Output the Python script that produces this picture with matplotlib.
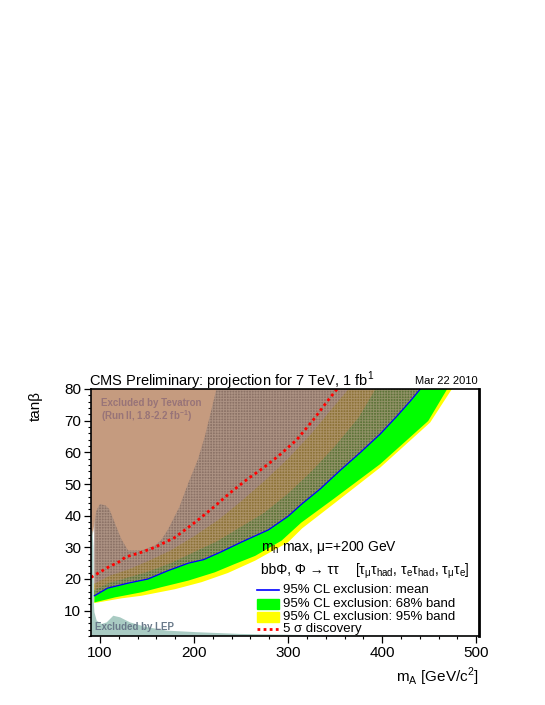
import matplotlib
matplotlib.use("Agg")
import matplotlib.pyplot as plt
from matplotlib.patches import Rectangle
from matplotlib.ticker import MultipleLocator
import numpy as np

plt.rcParams["font.family"] = ["Liberation Sans", "DejaVu Sans"]
plt.rcParams["mathtext.fontset"] = "custom"
plt.rcParams["mathtext.rm"] = "Liberation Sans"
plt.rcParams["hatch.linewidth"] = 0.7

# expected 95% CL exclusion (mean)
mean_ma = [94, 108, 130, 151, 172, 194, 210, 229, 250, 279, 300, 315, 334, 355, 377, 398, 416, 430, 442]
mean_tb = [14.7, 17.1, 18.7, 20.0, 22.6, 25.0, 26.1, 28.6, 31.6, 35.5, 39.8, 43.8, 48.4, 54.2, 60.0, 65.8, 71.5, 76.2, 80.5]

# 68% band edges
lo68_ma = [94, 116, 144, 165, 194, 222, 243, 265, 293, 314, 348, 398, 449, 469, 472]
lo68_tb = [12.6, 14.2, 15.8, 17.4, 19.5, 22.1, 24.7, 27.3, 32.1, 37.8, 45.2, 56.3, 69.9, 79.9, 81]
hi68_ma = [94, 110, 130, 150, 175, 200, 225, 250, 275, 300, 325, 350, 375, 395]
hi68_tb = [16.5, 18.8, 20.5, 22.2, 25.0, 28.5, 32.0, 36.5, 41.0, 47.0, 54.0, 62.0, 71.0, 81.0]

# 95% band edges
lo95_ma = [94, 123, 144, 180, 208, 236, 265, 300, 315, 348, 398, 451, 474, 477]
lo95_tb = [12.4, 13.9, 14.7, 16.8, 19.0, 21.9, 25.8, 31.6, 36.0, 43.6, 55.2, 69.4, 79.9, 81]
hi95_ma = [94, 110, 130, 150, 175, 200, 225, 250, 275, 300, 325, 350, 370]
hi95_tb = [18.5, 21.0, 23.0, 25.5, 29.0, 33.5, 38.5, 44.5, 51.0, 58.0, 66.0, 75.0, 82.0]

# 5 sigma discovery
disc_ma = [90.4, 108.5, 122.7, 126.6, 143.6, 158.2, 179.5, 203.2, 220.5, 238.3, 256.1, 273.7, 291.5, 309.3, 326.9, 342.9, 352.1]
disc_tb = [20.5, 23.7, 25.8, 26.9, 28.4, 30.0, 33.1, 38.4, 42.6, 47.2, 51.4, 55.1, 59.3, 64.0, 70.3, 76.6, 80.0]

# Tevatron excluded region
tev_ma = [90.4, 90.4, 92.6, 96, 100, 106, 110, 116, 122.7, 129.8, 144, 158, 165, 172, 184, 194, 204, 211.4, 218.4, 223.7, 225, 90.4]
tev_tb = [81, 32, 34.7, 41.5, 43.7, 43.2, 42, 37.5, 32.6, 29.0, 29.0, 30.5, 32.3, 35.5, 42.5, 50.4, 57.7, 65.0, 73.4, 79.9, 81, 81]

# LEP excluded region
lep_ma = [90.4, 92.0, 93.0, 93.3, 94.0, 96.5, 101.8, 107.1, 114.1, 121.3, 131.9, 149.7, 171.0, 203.0, 249.0, 320.0, 420.0, 503.0, 503.0, 90.4]
lep_tb = [35.5, 35.0, 30.0, 13.0, 9.5, 6.8, 5.8, 6.3, 8.4, 7.9, 6.3, 4.8, 3.7, 3.2, 2.65, 2.3, 2.1, 2.0, 0, 0]

C_TEV = "#c59b7f"
C_LEP = "#a9cbc3"
C_HATCH = (0.45, 0.33, 0.27, 0.82)

fig = plt.figure(figsize=(5.45, 7.05), dpi=100)
ax = fig.add_axes([91 / 545, 1 - 636 / 705, 388 / 545, 247 / 705])

# bands
ax.fill(np.r_[lo95_ma, hi95_ma[::-1]], np.r_[lo95_tb, hi95_tb[::-1]], color="#ffff00", lw=0, zorder=1)
ax.fill(np.r_[lo68_ma, hi68_ma[::-1]], np.r_[lo68_tb, hi68_tb[::-1]], color="#00ff00", lw=0, zorder=2)

# expected exclusion region (hatched, above the mean)
ex_ma = np.r_[mean_ma, 94]
ex_tb = np.r_[mean_tb, 81]
ax.fill(ex_ma, ex_tb, facecolor=C_HATCH, lw=0, zorder=3)
ax.fill(ex_ma, ex_tb, facecolor="none", edgecolor=(0.86, 0.75, 0.67, 0.4),
        hatch="++++++", lw=0, zorder=3.1)

ax.fill(tev_ma, tev_tb, color=C_TEV, lw=0, zorder=4)
ax.fill(lep_ma, lep_tb, color=C_LEP, lw=0, zorder=5)

ax.plot(mean_ma, mean_tb, color="#0000ff", lw=0.9, zorder=6)
ax.plot(disc_ma, disc_tb, color="#ff0000", lw=2, ls=(0, (1, 1.2)), zorder=7)

ax.set_xlim(90.4, 503)
ax.set_ylim(2, 80)
ax.xaxis.set_major_locator(MultipleLocator(100))
ax.xaxis.set_minor_locator(MultipleLocator(20))
ax.yaxis.set_major_locator(MultipleLocator(10))
ax.yaxis.set_minor_locator(MultipleLocator(2))
ax.set_yticks([10, 20, 30, 40, 50, 60, 70, 80])
ax.tick_params(which="major", direction="out", length=5, width=0.9, labelsize=11, pad=2)
ax.tick_params(which="minor", direction="out", length=2.5, width=0.8)
for side in ["left", "bottom", "top"]:
    ax.spines[side].set_linewidth(1.2)
ax.spines["right"].set_linewidth(2)
for s in ax.spines.values():
    s.set_zorder(10)

ax.set_ylabel("tanβ", fontsize=11, loc="top")
ax.yaxis.set_label_coords(-0.124, 0.99)
ax.set_xlabel("m$_\\mathregular{A}$ [GeV/c$^\\mathregular{2}$]", fontsize=11, loc="right")
ax.xaxis.set_label_coords(1.0, -0.12)

ax.text(-0.005, 1.012, "CMS Preliminary: projection for 7 TeV, 1 fb$^\\mathregular{1}$",
        transform=ax.transAxes, fontsize=10.5, va="baseline", ha="left")
ax.text(0.997, 1.02, "Mar 22 2010", transform=ax.transAxes, fontsize=8, va="baseline", ha="right")

ax.text(0.025, 0.931, "Excluded by Tevatron", transform=ax.transAxes, fontsize=7,
        fontweight="bold", color="#987478", zorder=8)
ax.text(0.025, 0.875, "(Run II, 1.8-2.2 fb$^\\mathregular{-1}$)", transform=ax.transAxes,
        fontsize=7, fontweight="bold", color="#987478", zorder=8)
ax.text(0.011, 0.024, "Excluded by LEP", transform=ax.transAxes, fontsize=7,
        fontweight="bold", color="#6a7a8a", zorder=8)

# legend block
ax.text(0.437, 0.344, "m$_\\mathregular{h}$ max, μ=+200 GeV", transform=ax.transAxes,
        fontsize=10, va="baseline", zorder=8)
ax.text(0.437, 0.25, "bbΦ, Φ → ττ", transform=ax.transAxes, fontsize=10, va="baseline", zorder=8)
ax.text(0.680, 0.25, "[τ$_\\mathregular{μ}$τ$_\\mathregular{had}$, τ$_\\mathregular{e}$τ$_\\mathregular{had}$, "
        "τ$_\\mathregular{μ}$τ$_\\mathregular{e}$]", transform=ax.transAxes, fontsize=10,
        va="baseline", zorder=8)

rows = [0.185, 0.130, 0.077, 0.028]
labels = ["95% CL exclusion: mean", "95% CL exclusion: 68% band",
          "95% CL exclusion: 95% band", "5 σ discovery"]
hx0, hx1 = 0.427, 0.485
ax.plot([hx0, hx1], [rows[0]] * 2, color="#0000ff", lw=1.2, transform=ax.transAxes, zorder=8)
ax.add_patch(Rectangle((hx0, rows[1] - 0.019), hx1 - hx0, 0.038, color="#00ff00",
                       transform=ax.transAxes, zorder=8))
ax.add_patch(Rectangle((hx0, rows[2] - 0.019), hx1 - hx0, 0.038, color="#ffff00",
                       transform=ax.transAxes, zorder=8))
ax.plot([hx0, hx1], [rows[3]] * 2, color="#ff0000", lw=2, ls=(0, (1, 1.2)),
        transform=ax.transAxes, zorder=8)
for r, lab in zip(rows, labels):
    ax.text(0.495, r, lab, transform=ax.transAxes, fontsize=9.5, va="center", zorder=8)

fig.savefig("out.png", dpi=100)
